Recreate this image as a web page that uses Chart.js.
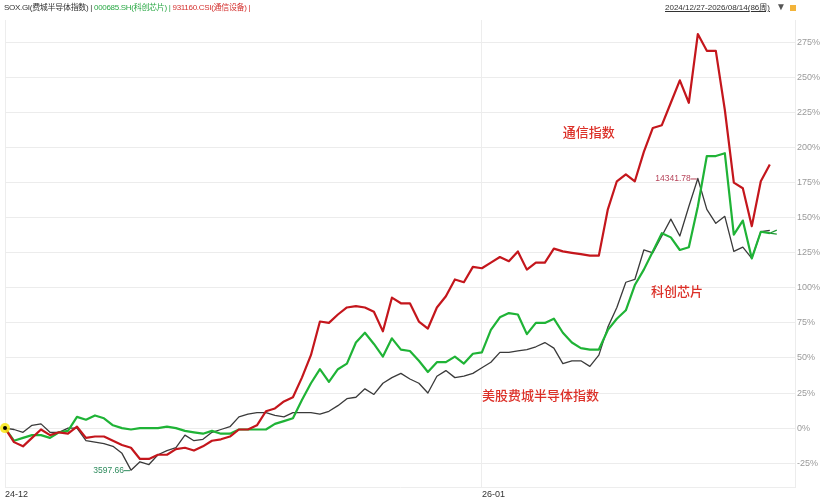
<!DOCTYPE html>
<html>
<head>
<meta charset="utf-8">
<script src="https://cdn.jsdelivr.net/npm/chart.js@4.4.1/dist/chart.umd.min.js"></script>
<style>
  html, body { margin: 0; padding: 0; background: #fff; }
  #wrap { position: relative; width: 833px; height: 500px; font-family: "Liberation Sans", "Noto Sans CJK SC", sans-serif; }
  #chart { position: absolute; left: 0; top: 0; }
  .head { position: absolute; top: 2px; font-size: 8px; line-height: 12px; white-space: nowrap; }
  #names { left: 4px; letter-spacing: -0.3px; }
  #range { left: 665px; color: #333; text-decoration: underline; }
  #arrow { left: 776px; top: 1px; color: #555; font-size: 10px; }
  #box { position: absolute; left: 790px; top: 5px; width: 6px; height: 6px; background: #f3b43a; }
</style>
</head>
<body>
<div id="wrap">
  <canvas id="chart" width="833" height="500"></canvas>
  <div class="head" id="names">
    <span style="color:#333">SOX.GI(费城半导体指数) | </span><span style="color:#2aa845">000685.SH(科创芯片) | </span><span style="color:#d4302e">931160.CSI(通信设备) |</span>
  </div>
  <div class="head" id="range">2024/12/27-2026/08/14(86周)</div>
  <div class="head" id="arrow">▼</div>
  <div id="box"></div>
</div>
<script>
// weekly % change since 2024/12/27, 86 weeks
const soxPct = [0, -1, -3, 2, 3, -3, -3, 0, 0, -9, -10, -11, -13, -18, -30, -24, -26, -19, -16, -14,
  -5, -9, -8, -3, -1, 1, 8, 10, 11, 11, 9, 8, 11, 11, 11, 10, 12, 16, 21, 22,
  28, 24, 32, 36, 39, 35, 32, 25, 37, 41, 36, 37, 39, 43, 47, 54, 54, 55, 56, 58,
  61, 57, 46, 48, 48, 44, 52, 72, 86, 104, 106, 127, 125, 137, 149, 137, 158, 178, 156, 146,
  151, 126, 129, 121, 140, 141];
const kcxpPct = [0, -9, -7, -5, -5, -7, -3, -2, 8, 6, 9, 7, 2, 0, -1, 0, 0, 0, 1, 0,
  -2, -3, -4, -2, -4, -4, -1, -1, -1, -1, 3, 5, 7, 20, 32, 42, 33, 42, 46, 61,
  68, 60, 51, 64, 56, 55, 48, 40, 47, 47, 51, 46, 53, 54, 70, 79, 82, 81, 67, 75,
  75, 78, 68, 61, 57, 56, 56, 70, 78, 84, 102, 113, 126, 139, 136, 127, 129, 158, 194, 194,
  196, 138, 148, 121, 140, 139];
const txsbPct = [0, -10, -13, -7, -1, -5, -3, -4, 1, -7, -6, -6, -9, -12, -14, -22, -22, -19, -19, -15,
  -14, -16, -13, -9, -8, -6, -1, -1, 2, 12, 14, 19, 22, 36, 52, 76, 75, 81, 86, 87,
  86, 83, 69, 93, 89, 89, 76, 71, 86, 94, 106, 104, 115, 114, 118, 122, 119, 126, 113, 118,
  118, 128, 126, 125, 124, 123, 123, 156, 176, 181, 176, 197, 214, 216, 232, 248, 232, 281, 269, 269,
  227, 175, 171, 144, 176, 188];

const xTickIdx = [0, 53];
const xTickLabels = ["24-12", "26-01"];
const yTicks = [-25, 0, 25, 50, 75, 100, 125, 150, 175, 200, 225, 250, 275];

const soxLow = "3597.66";
const soxHigh = "14341.78";

const seriesNotes = [
  { text: "通信指数", x: 62, y: 211 },
  { text: "科创芯片", x: 71.8, y: 98 },
  { text: "美股费城半导体指数", x: 53, y: 23.5 }
];

const fam = '"Liberation Sans", "Noto Sans CJK SC", sans-serif';

function toPoints(arr) {
  return arr.map((v, i) => ({ x: i, y: v }));
}

const notePlugin = {
  id: "notes",
  afterDatasetsDraw(chart) {
    const { ctx, scales: { x, y } } = chart;
    ctx.save();

    // series names
    ctx.font = '500 13px "Noto Sans CJK SC", sans-serif';
    ctx.fillStyle = "#dc3028";
    ctx.textBaseline = "middle";
    ctx.textAlign = "left";
    seriesNotes.forEach(n => ctx.fillText(n.text, x.getPixelForValue(n.x), y.getPixelForValue(n.y)));

    // high / low of SOX
    const lo = soxPct.indexOf(Math.min(...soxPct));
    const hi = soxPct.indexOf(Math.max(...soxPct));
    ctx.font = "8.5px " + fam;
    ctx.textAlign = "right";
    [[lo, soxLow, "#2f8c5e"], [hi, soxHigh, "#b6445a"]].forEach(([i, txt, col]) => {
      const px = x.getPixelForValue(i), py = y.getPixelForValue(soxPct[i]);
      ctx.fillStyle = col;
      ctx.strokeStyle = col;
      ctx.lineWidth = 1;
      ctx.fillText(txt, px - 7, py);
      ctx.beginPath();
      ctx.moveTo(px - 7, py + 0.5);
      ctx.lineTo(px - 1, py + 0.5);
      ctx.stroke();
    });

    // start marker
    const sx = x.getPixelForValue(0), sy = y.getPixelForValue(soxPct[0]);
    ctx.fillStyle = "rgba(248,232,20,0.85)";
    ctx.beginPath();
    ctx.arc(sx, sy, 5, 0, Math.PI * 2);
    ctx.fill();
    ctx.fillStyle = "#000";
    ctx.beginPath();
    ctx.arc(sx, sy, 2, 0, Math.PI * 2);
    ctx.fill();

    // end mark
    const last = kcxpPct.length - 1;
    const ex = x.getPixelForValue(last), ey = y.getPixelForValue(kcxpPct[last]);
    ctx.strokeStyle = "#1f9a35";
    ctx.lineWidth = 1.2;
    ctx.beginPath();
    ctx.moveTo(ex + 7, ey - 3);
    ctx.lineTo(ex, ey);
    ctx.lineTo(ex + 7, ey + 1);
    ctx.stroke();

    ctx.restore();
  }
};

const ctx = document.getElementById("chart").getContext("2d");
new Chart(ctx, {
  type: "line",
  data: {
    datasets: [
      { label: "931160.CSI", data: toPoints(txsbPct), borderColor: "#c4161c", borderWidth: 2.2, order: 1 },
      { label: "000685.SH", data: toPoints(kcxpPct), borderColor: "#1fb336", borderWidth: 2.2, order: 2 },
      { label: "SOX.GI", data: toPoints(soxPct), borderColor: "#3a3a3a", borderWidth: 1.3, order: 3 }
    ]
  },
  options: {
    responsive: false,
    animation: false,
    layout: { padding: { left: 5, top: 20, right: 0, bottom: 0 } },
    elements: { point: { radius: 0 }, line: { tension: 0, borderJoinStyle: "round" } },
    plugins: { legend: { display: false }, tooltip: { enabled: false } },
    scales: {
      x: {
        type: "linear",
        min: 0,
        max: 87.8,
        afterBuildTicks: axis => { axis.ticks = xTickIdx.map(v => ({ value: v })); },
        afterFit: axis => { axis.height = 13; },
        grid: { color: "#ededed", drawTicks: false },
        border: { color: "#ededed" },
        ticks: {
          align: "start",
          padding: 2,
          color: "#333",
          maxRotation: 0,
          autoSkip: false,
          font: { size: 9, family: fam },
          callback: (v, i) => xTickLabels[i]
        }
      },
      y: {
        position: "right",
        min: -42,
        max: 291,
        afterBuildTicks: axis => { axis.ticks = yTicks.map(v => ({ value: v })); },
        afterFit: axis => { axis.width = 38; },
        grid: { color: "#ececec", drawTicks: false },
        border: { color: "#ececec" },
        ticks: {
          padding: 2,
          color: "#9a9a9a",
          font: { size: 9, family: fam },
          callback: v => v + "%"
        }
      }
    }
  },
  plugins: [notePlugin]
});
</script>
</body>
</html>
